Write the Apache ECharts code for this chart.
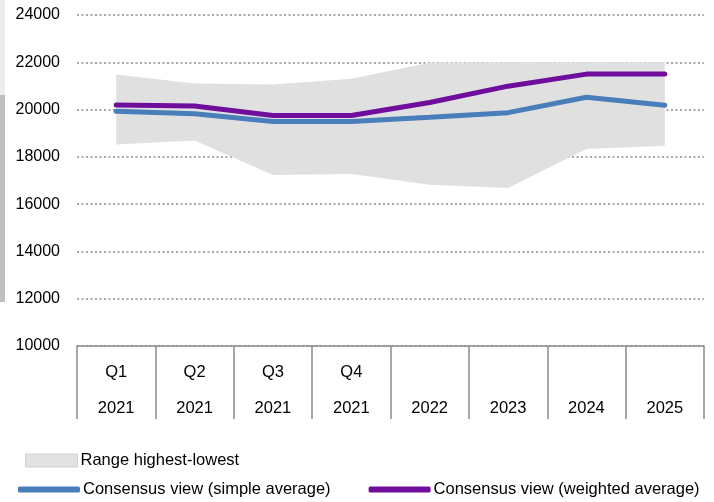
<!DOCTYPE html>
<html>
<head>
<meta charset="utf-8">
<script src="https://cdn.jsdelivr.net/npm/echarts@6/dist/echarts.min.js"></script>
<style>
  html, body { margin: 0; padding: 0; background: #fff; }
  #chart1 { width: 714px; height: 502px; }
</style>
</head>
<body>
<div id="chart1"></div>
<script>
// categories (quarter row / year row)
var quarters = ['Q1', 'Q2', 'Q3', 'Q4', '', '', '', ''];
var years = ['2021', '2021', '2021', '2021', '2022', '2023', '2024', '2025'];
// values
var rangeLow = [18520, 18690, 17230, 17270, 16820, 16680, 18330, 18470];
var rangeHigh = [21480, 21100, 21060, 21300, 21980, 22000, 22000, 22000];
var simpleAvg = [19930, 19820, 19500, 19500, 19680, 19870, 20520, 20180];
var weightedAvg = [20190, 20150, 19750, 19750, 20300, 20990, 21500, 21500];
var yTicks = [10000, 24000, 2000]; // min, max, step

var fontName = 'Liberation Sans';
var categories = [];
for (var i = 0; i < years.length; i++) {
    categories.push(quarters[i] + '\n' + years[i]);
}
var rangeSpan = [];
for (var i = 0; i < rangeHigh.length; i++) {
    rangeSpan.push(rangeHigh[i] - rangeLow[i]);
}

var chart1 = echarts.init(document.getElementById('chart1'));
var option = {
    animation: false,
    backgroundColor: '#fff',
    textStyle: { fontFamily: fontName },
    graphic: [
        // the grey strip on the left edge
        { type: 'rect', left: 0, top: 0, shape: { width: 5, height: 95 }, style: { fill: '#ececec' } },
        { type: 'rect', left: 0, top: 95, shape: { width: 5, height: 207 }, style: { fill: '#bfbfbf' } }
    ],
    grid: {
        left: 77,
        right: 10,
        top: 15,
        height: 331
    },
    legend: [{
        left: 25,
        top: 452,
        padding: 0,
        itemWidth: 52,
        itemHeight: 13,
        itemGap: 20,
        textStyle: { fontSize: 16.5, color: '#000', fontFamily: fontName, padding: [0, 0, 0, -2] },
        data: [{
            name: 'Range highest-lowest',
            icon: 'rect',
            itemStyle: { color: '#e2e2e2', borderColor: '#d0d0d0', borderWidth: 1 }
        }]
    }, {
        left: 18,
        top: 481,
        padding: 0,
        itemWidth: 62,
        itemHeight: 6,
        itemGap: 38,
        textStyle: { fontSize: 16.5, color: '#000', fontFamily: fontName, padding: [0, 0, 0, -2] },
        data: [
            { name: 'Consensus view (simple average)', icon: 'roundRect' },
            { name: 'Consensus view (weighted average)', icon: 'roundRect' }
        ]
    }],
    xAxis: {
        type: 'category',
        data: categories,
        boundaryGap: true,
        axisLine: { show: true, onZero: false, lineStyle: { color: '#8c8c8c', width: 1.5 } },
        axisTick: {
            show: true,
            interval: 0,
            length: 73,
            lineStyle: { color: '#8c8c8c', width: 1.5 }
        },
        axisLabel: {
            interval: 0,
            margin: 8,
            fontSize: 16.5,
            color: '#000',
            fontFamily: fontName,
            lineHeight: 36
        },
        splitLine: { show: false }
    },
    yAxis: {
        type: 'value',
        min: yTicks[0],
        max: yTicks[1],
        interval: yTicks[2],
        axisLine: { show: false },
        axisTick: { show: false },
        axisLabel: {
            margin: 17,
            fontSize: 16,
            color: '#000',
            fontFamily: fontName,
            formatter: function (v) { return String(v); }
        },
        splitLine: {
            show: true,
            lineStyle: { color: '#8c8c8c', type: [2, 2.5], width: 1.5 }
        }
    },
    series: [{
        name: 'base',
        type: 'line',
        stack: 'range',
        data: rangeLow,
        symbol: 'none',
        lineStyle: { opacity: 0 },
        areaStyle: { opacity: 0 },
        silent: true,
        z: 1
    }, {
        name: 'Range highest-lowest',
        type: 'line',
        stack: 'range',
        data: rangeSpan,
        symbol: 'none',
        itemStyle: { color: '#e2e2e2' },
        lineStyle: { opacity: 0 },
        areaStyle: { color: '#e0e0e0', opacity: 1 },
        silent: true,
        z: 1
    }, {
        name: 'Consensus view (simple average)',
        type: 'line',
        data: simpleAvg,
        symbol: 'none',
        itemStyle: { color: '#4a7ebb' },
        lineStyle: { color: '#4a7ebb', width: 5, cap: 'round' },
        z: 3
    }, {
        name: 'Consensus view (weighted average)',
        type: 'line',
        data: weightedAvg,
        symbol: 'none',
        itemStyle: { color: '#6f0d9c' },
        lineStyle: { color: '#6f0d9c', width: 5, cap: 'round' },
        z: 4
    }]
};
chart1.setOption(option);
</script>
</body>
</html>
